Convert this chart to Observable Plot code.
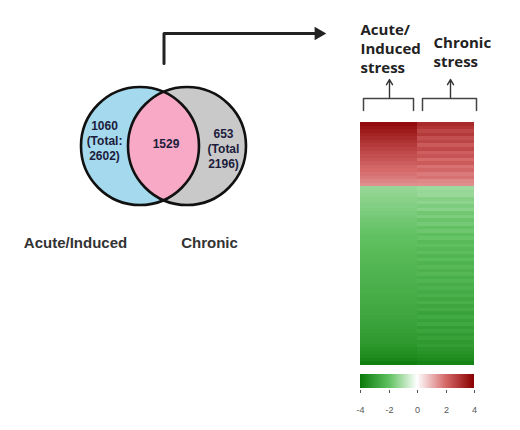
<!DOCTYPE html>
<html><head><meta charset="utf-8">
<script src="https://cdn.jsdelivr.net/npm/d3@7"></script>
<script src="https://cdn.jsdelivr.net/npm/@observablehq/plot@0.6"></script>
<style>
html,body{margin:0;padding:0;background:#fff;}
#chart{position:relative;width:520px;height:430px;overflow:hidden;font-family:"Liberation Sans",Arial,sans-serif;}
#chart > *{position:absolute;}
</style></head><body><div id="chart"></div>
<script>
// ---------- data ----------
const sets = ["Acute/Induced", "Chronic"];
const uniqueCounts = [1060, 653];
const totalCounts = [2602, 2196];
const sharedCount = 1529;
const conditions = ["Acute/\nInduced\nstress", "Chronic\nstress"];
// log2 fold change per gene row, top to bottom (up-regulated then down-regulated)
const acuteValues = [
  3.8, 3.65, 3.5, 3.35, 3.2, 3.05, 2.9, 2.75, 2.6, 2.5, 2.4, 2.25, 2.1, 2.0, 1.9, 1.8, 1.65, 1.5,
  -1.3, -1.35, -1.4, -1.45, -1.5, -1.55, -1.6, -1.65, -1.7, -1.75,
  -1.8, -1.85, -1.9, -1.95, -2.0, -2.0, -2.05, -2.1, -2.15, -2.2,
  -2.2, -2.25, -2.3, -2.3, -2.35, -2.4, -2.4, -2.45, -2.5, -2.5,
  -2.55, -2.6, -2.6, -2.65, -2.7, -2.7, -2.75, -2.8, -2.85, -2.9,
  -2.95, -3.0, -3.05, -3.1, -3.2, -3.3, -3.4, -3.5, -3.65, -3.85
];
const chronicValues = [
  3.2, 3.0, 2.7, 2.9, 2.5, 2.7, 2.3, 2.6, 2.2, 2.4, 2.0, 2.3, 1.9, 2.1, 1.8, 1.9, 1.6, 1.5,
  -1.2, -1.3, -1.25, -1.5, -1.4, -1.6, -1.45, -1.75, -1.6, -1.85,
  -1.7, -1.95, -1.8, -2.05, -1.9, -2.15, -2.0, -2.2, -2.05, -2.3,
  -2.1, -2.35, -2.2, -2.4, -2.25, -2.5, -2.3, -2.55, -2.4, -2.6,
  -2.45, -2.7, -2.5, -2.75, -2.6, -2.85, -2.65, -2.9, -2.7, -3.0,
  -2.8, -3.05, -2.9, -3.1, -3.0, -3.2, -3.3, -3.4, -3.55, -3.75
];
const legendTicks = [-4, -2, 0, 2, 4];
const legendColors = ["#0a7a0a", "#5ec05e", "#ffffff", "#d66a6a", "#8b0000"];

// ---------- layout ----------
const venn = {cx: [140, 187], cy: 146, r: 59};
const vennFills = ["#a5daee", "#c9c9c9"];
const lensFill = "#f8a9c5";
const heatBox = {left: 360, top: 122, width: 114, height: 243};
const legendBox = {top: 374, bar: 14, pad: 8};
const brackets = [{x0: 363, x1: 413}, {x0: 422, x1: 476}];
const bracketY = {top: 98, bottom: 110, arrowTop: 79};
const bigArrow = {yStart: 63, yTurn: 33, xEnd: 315};

const colorOpts = {type: "linear", domain: legendTicks, range: legendColors};

function vennMark(index, scales) {
  const sx = scales.x, sy = scales.y;
  const cx = venn.cx.map(sx), cy = sy(venn.cy), r = sx(venn.r) - sx(0);
  const g = d3.create("svg:g");
  g.append("clipPath").attr("id", "vennClipLeft")
    .append("circle").attr("cx", cx[0]).attr("cy", cy).attr("r", r);
  cx.forEach((c, i) => g.append("circle").attr("cx", c).attr("cy", cy).attr("r", r).attr("fill", vennFills[i]));
  g.append("circle").attr("cx", cx[1]).attr("cy", cy).attr("r", r)
    .attr("fill", lensFill).attr("clip-path", "url(#vennClipLeft)");
  cx.forEach(c => g.append("circle").attr("cx", c).attr("cy", cy).attr("r", r)
    .attr("fill", "none").attr("stroke", "#111").attr("stroke-width", 2.6));
  return g.node();
}

const countLabels = [
  {x: 104, y: 140, text: `${uniqueCounts[0]}\n(Total:\n${totalCounts[0]})`},
  {x: 223, y: 148, text: `${uniqueCounts[1]}\n(Total\n${totalCounts[1]})`},
  {x: (venn.cx[0] + venn.cx[1]) / 2 + 2, y: 143, text: `${sharedCount}`}
];
const setLabels = [
  {x: 75, y: 243, text: sets[0]},
  {x: 209, y: 243, text: sets[1]}
];
const headerLabels = [
  {x: brackets[0].x0 - 3, y: 47, text: conditions[0]},
  {x: brackets[1].x0 + 11, y: 51, text: conditions[1]}
];
const bracketPts = brackets.flatMap((b, i) => [
  {i, x: b.x0, y: bracketY.bottom}, {i, x: b.x0, y: bracketY.top},
  {i, x: b.x1, y: bracketY.top}, {i, x: b.x1, y: bracketY.bottom}
]);
const bracketArrows = brackets.map(b => ({x: (b.x0 + b.x1) / 2 + 1}));
const lensX = (venn.cx[0] + venn.cx[1]) / 2;
const bigArrowPts = [
  {x: lensX, y: bigArrow.yStart}, {x: lensX, y: bigArrow.yTurn}, {x: bigArrow.xEnd, y: bigArrow.yTurn}
];

const main = Plot.plot({
  width: 520, height: 430, margin: 0,
  x: {domain: [0, 520], range: [0, 520], axis: null},
  y: {domain: [0, 430], range: [0, 430], axis: null},
  style: {background: "transparent", overflow: "visible"},
  marks: [
    vennMark,
    Plot.text(countLabels, {x: "x", y: "y", text: "text", fontSize: 12, fontWeight: "bold",
      fontFamily: "Liberation Sans", lineHeight: 1.25, fill: "#1c1c3c"}),
    Plot.text(setLabels, {x: "x", y: "y", text: "text", fontSize: 15, fontWeight: "bold",
      fontFamily: "Liberation Sans", fill: "#333"}),
    Plot.text(headerLabels, {x: "x", y: "y", text: "text", fontSize: 15, fontWeight: "bold",
      fontFamily: "Open Sans", lineHeight: 1.27, textAnchor: "start", fill: "#222"}),
    Plot.line(bracketPts, {x: "x", y: "y", z: "i", stroke: "#444", strokeWidth: 1.5}),
    Plot.arrow(bracketArrows, {x1: "x", x2: "x", y1: bracketY.top - 1, y2: bracketY.arrowTop,
      stroke: "#333", strokeWidth: 1.4, headLength: 7}),
    Plot.line(bigArrowPts, {x: "x", y: "y", stroke: "#222", strokeWidth: 3}),
    Plot.dot([bigArrowPts[2]], {x: d => d.x + 3, y: "y", symbol: "triangle", rotate: 90, r: 5, fill: "#222"})
  ]
});

const rows = acuteValues.map((v, i) => ({cond: conditions[0], row: i, value: v}))
  .concat(chronicValues.map((v, i) => ({cond: conditions[1], row: i, value: v})));

const heat = Plot.plot({
  width: heatBox.width, height: heatBox.height, margin: 0,
  x: {domain: conditions, padding: 0, axis: null},
  y: {domain: acuteValues.map((_, i) => i), padding: 0, axis: null},
  color: colorOpts,
  style: {background: "transparent"},
  marks: [Plot.cell(rows, {x: "cond", y: "row", fill: "value", inset: 0, shapeRendering: "crispEdges"})]
});
heat.style.left = heatBox.left + "px";
heat.style.top = heatBox.top + "px";

const leg = Plot.legend({
  color: colorOpts, label: null,
  width: heatBox.width + 2 * legendBox.pad, marginLeft: legendBox.pad, marginRight: legendBox.pad,
  height: legendBox.bar + 30, marginTop: 0, marginBottom: 30, tickSize: 3, ticks: legendTicks,
  tickFormat: d => `${d}`,
  style: {fontSize: "9px", color: "#555", background: "transparent", overflow: "visible", fontFamily: "Liberation Sans"}
});
leg.style.left = (heatBox.left - legendBox.pad) + "px";
leg.style.top = legendBox.top + "px";
leg.querySelectorAll(".tick line").forEach(l => { l.setAttribute("y1", 2); l.setAttribute("y2", 5); });
leg.querySelectorAll(".tick text").forEach(t => { t.setAttribute("y", 19); });

const chart = document.getElementById("chart");
chart.append(main, heat, leg);
</script></body></html>
